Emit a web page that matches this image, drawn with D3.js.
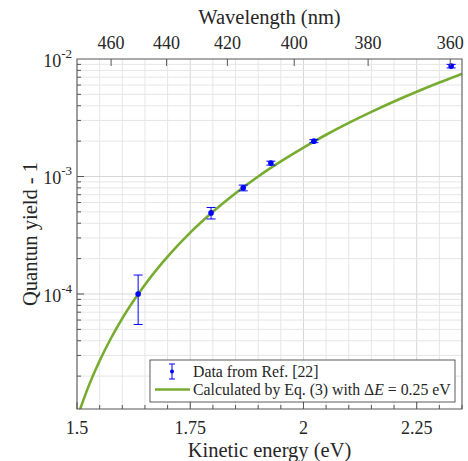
<!DOCTYPE html>
<html><head><meta charset="utf-8">
<script src="https://cdn.jsdelivr.net/npm/d3@7"></script>
<style>
body{margin:0;background:#fff}
svg{display:block}
</style>
</head><body><svg id="c" width="468" height="461" font-family="'Liberation Serif', 'Times New Roman', Times, 'DejaVu Serif', serif"></svg>
<script>
// ---- data ----
const dataKE  = [1.635, 1.796, 1.867, 1.928, 2.023, 2.326];
const dataQY  = [1.0e-4, 4.9e-4, 8.0e-4, 1.3e-3, 2.0e-3, 8.7e-3];
const dataErr = [4.5e-5, 5.5e-5, 4.5e-5, 5.0e-5, 6.0e-5, 3.0e-4];

const curveKE = [1.50, 1.525, 1.55, 1.575, 1.60, 1.65, 1.70, 1.75, 1.80, 1.85, 1.90, 1.95, 2.00, 2.05, 2.10, 2.15, 2.20, 2.25, 2.30, 2.35];
const curveQY = [8.8e-6, 1.62e-5, 2.70e-5, 4.20e-5, 6.21e-5, 1.20e-4, 2.08e-4, 3.33e-4, 5.01e-4, 7.21e-4, 1.0e-3, 1.344e-3, 1.764e-3, 2.266e-3, 2.859e-3, 3.551e-3, 4.351e-3, 5.267e-3, 6.310e-3, 7.486e-3];

const xTicks = [1.5, 1.75, 2, 2.25];
const xTickLabels = ["1.5", "1.75", "2", "2.25"];
const wlTicks = [460, 440, 420, 400, 380, 360];
const wlTickLabels = ["460", "440", "420", "400", "380", "360"];
const yTicks = [1e-4, 1e-3, 1e-2];
const yTickExp = ["-4", "-3", "-2"];
const legendLabels = ["Data from Ref. [22]", "Calculated by Eq. (3) with "];
const hcOverE = 1239.84, gapEnergy = 1.12;

// ---- layout ----
const FONT = "'Liberation Serif', 'Times New Roman', Times, 'DejaVu Serif', serif";
const TXT = "#262626";
const L = 77, R = 462, T = 59, B = 409;
const svg = d3.select("#c");
const x = d3.scaleLinear().domain([1.5, 2.35]).range([L, R]);
const y = d3.scaleLog().domain([1.05e-5, 1e-2]).range([B, T]);

function txt(sel) { return sel.append("text").attr("font-family", FONT).attr("fill", TXT); }

const minorX = d3.range(1.5, 2.3501, 0.05).map(v => +v.toFixed(2));
const minorY = [];
for (let d = -5; d <= -3; d++) for (let k = 1; k <= 9; k++) {
  const v = k * Math.pow(10, d);
  if (v >= 1.05e-5 && v <= 1e-2) minorY.push(v);
}
const isMajorY = v => yTicks.some(t => Math.abs(t - v) < 1e-12);

// grid
const grid = svg.append("g");
minorX.forEach(v => grid.append("line").attr("x1", x(v)).attr("x2", x(v)).attr("y1", T).attr("y2", B)
  .attr("stroke", xTicks.includes(v) ? "#d6d6d6" : "#e6e6e6").attr("stroke-width", 1));
minorY.forEach(v => grid.append("line").attr("x1", L).attr("x2", R).attr("y1", y(v)).attr("y2", y(v))
  .attr("stroke", isMajorY(v) ? "#d6d6d6" : "#e6e6e6").attr("stroke-width", 1));

// clip
svg.append("clipPath").attr("id", "clip").append("rect").attr("x", L).attr("y", T).attr("width", R - L).attr("height", B - T);

// curve
const line = d3.line().x(d => x(d[0])).y(d => y(d[1])).curve(d3.curveMonotoneX);
svg.append("path").datum(curveKE.map((k, i) => [k, curveQY[i]]))
  .attr("clip-path", "url(#clip)")
  .attr("d", line).attr("fill", "none").attr("stroke", "#77AC30").attr("stroke-width", 2.6);

// data with error bars
const blue = "#0000ff";
const pts = svg.append("g");
dataKE.forEach((k, i) => {
  const cx = x(k), lo = y(dataQY[i] - dataErr[i]), hi = y(dataQY[i] + dataErr[i]);
  pts.append("line").attr("x1", cx).attr("x2", cx).attr("y1", lo).attr("y2", hi).attr("stroke", blue).attr("stroke-width", 1);
  [lo, hi].forEach(yy => pts.append("line").attr("x1", cx - 4.5).attr("x2", cx + 4.5).attr("y1", yy).attr("y2", yy).attr("stroke", blue).attr("stroke-width", 1));
  pts.append("circle").attr("cx", cx).attr("cy", y(dataQY[i])).attr("r", 2.8).attr("fill", blue);
});

// axes box
const ax = svg.append("g").attr("stroke", "#555").attr("stroke-width", 1);
ax.append("rect").attr("x", L).attr("y", T).attr("width", R - L).attr("height", B - T).attr("fill", "none");

// bottom ticks
minorX.forEach(v => {
  const major = xTicks.includes(v);
  ax.append("line").attr("x1", x(v)).attr("x2", x(v)).attr("y1", B).attr("y2", B - (major ? 7 : 4));
});
xTicks.forEach((v, i) => txt(svg).attr("x", x(v)).attr("y", B + 25).attr("text-anchor", "middle")
  .attr("font-size", 18).text(xTickLabels[i]));

// top (wavelength) ticks
wlTicks.forEach((w, i) => {
  const px = x(hcOverE / w - gapEnergy);
  ax.append("line").attr("x1", px).attr("x2", px).attr("y1", T).attr("y2", T + 7);
  txt(svg).attr("x", px).attr("y", T - 10).attr("text-anchor", "middle").attr("font-size", 18).text(wlTickLabels[i]);
});

// left ticks
minorY.forEach(v => {
  ax.append("line").attr("x1", L).attr("x2", L + (isMajorY(v) ? 7 : 4)).attr("y1", y(v)).attr("y2", y(v));
});
yTicks.forEach((v, i) => {
  const t = txt(svg).attr("x", L - 5).attr("y", y(v) + 8).attr("text-anchor", "end").attr("font-size", 18);
  t.append("tspan").text("10");
  t.append("tspan").attr("dy", -9).attr("font-size", 13).text(yTickExp[i]);
});

// titles
txt(svg).attr("x", (L + R) / 2).attr("y", 24).attr("text-anchor", "middle").attr("font-size", 20.5).text("Wavelength (nm)");
txt(svg).attr("x", (L + R) / 2).attr("y", 457).attr("text-anchor", "middle").attr("font-size", 20.5).text("Kinetic energy (eV)");
txt(svg).attr("transform", `translate(37,${(T + B) / 2}) rotate(-90)`).attr("text-anchor", "middle").attr("font-size", 20.5).text("Quantun yield - 1");

// legend
const lg = svg.append("g");
lg.append("rect").attr("x", 150).attr("y", 360).attr("width", 305).attr("height", 42).attr("fill", "#fff").attr("stroke", "#333").attr("stroke-width", 0.8);
lg.append("line").attr("x1", 172).attr("x2", 172).attr("y1", 364).attr("y2", 379).attr("stroke", blue);
[364, 379].forEach(yy => lg.append("line").attr("x1", 169).attr("x2", 175).attr("y1", yy).attr("y2", yy).attr("stroke", blue));
lg.append("circle").attr("cx", 172).attr("cy", 371.5).attr("r", 2).attr("fill", blue);
txt(lg).attr("x", 193).attr("y", 377).attr("font-size", 15.8).text(legendLabels[0]);
lg.append("line").attr("x1", 155).attr("x2", 190).attr("y1", 389.5).attr("y2", 389.5).attr("stroke", "#77AC30").attr("stroke-width", 2.6);
const t2 = txt(lg).attr("x", 193).attr("y", 395).attr("font-size", 15.8);
t2.append("tspan").text(legendLabels[1] + "\u0394");
t2.append("tspan").attr("font-style", "italic").text("E");
t2.append("tspan").text(" = 0.25 eV");
</script></body></html>
